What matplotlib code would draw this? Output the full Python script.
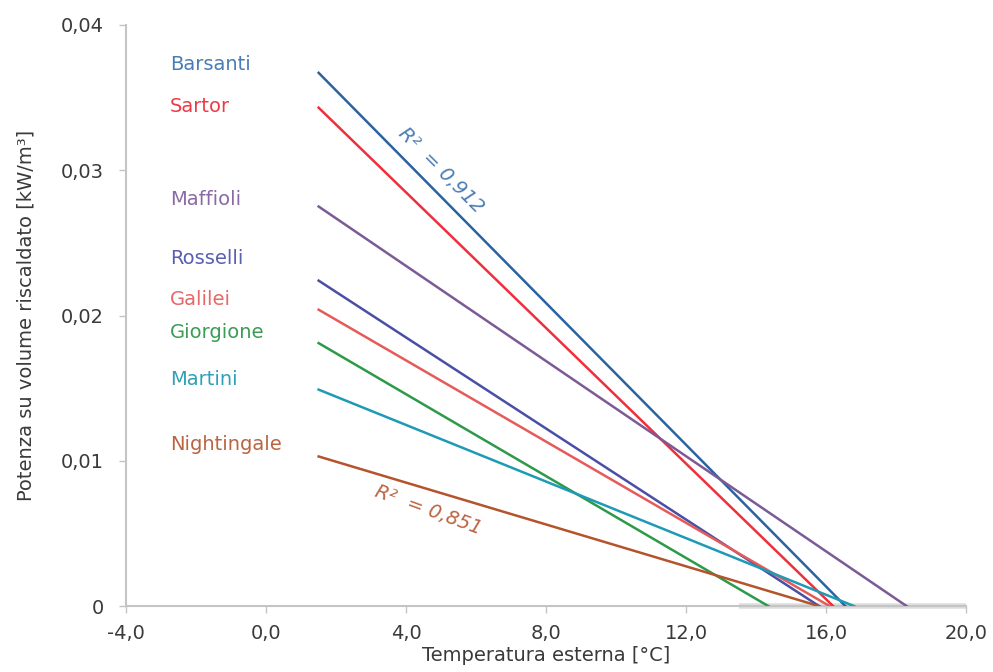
import matplotlib.pyplot as plt
from matplotlib.ticker import FuncFormatter

# regression lines: value at the start (x = 1.5) and x where they hit zero
names = ["Barsanti", "Sartor", "Maffioli", "Rosselli", "Galilei",
         "Giorgione", "Martini", "Nightingale"]
x_start = 1.5
y_start = [0.0367, 0.0343, 0.0275, 0.0224, 0.0204, 0.0181, 0.0149, 0.0103]
x_zero = [16.55, 16.2, 18.3, 15.8, 16.1, 14.35, 16.8, 15.8]
line_colors = ["#2a64a0", "#ee2f3c", "#7b5a96", "#4a4fa6", "#e65a5a",
               "#2c9a48", "#1f9ab4", "#b4532c"]
label_colors = ["#4a7db3", "#ee3a46", "#8a6aa4", "#5a5fb0", "#e86868",
                "#3a9c55", "#30a0b8", "#bb6442"]
label_y = [0.0373, 0.0344, 0.0280, 0.0239, 0.0211, 0.0188, 0.0156, 0.0111]
label_x = -2.75

x_ticks = [-4, 0, 4, 8, 12, 16, 20]
y_ticks = [0, 0.01, 0.02, 0.03, 0.04]
band = [13.5, 20]

FS = 14

fig = plt.figure(figsize=(9.93, 6.72), dpi=100)
ax = fig.add_axes([0.127, 0.098, 0.846, 0.865])

ax.plot(band, [0, 0], color="#dedede", lw=4, solid_capstyle="butt",
        clip_on=False, zorder=1)

for n, y0, xz, c, lc, ly in zip(names, y_start, x_zero, line_colors,
                                label_colors, label_y):
    ax.plot([x_start, xz], [y0, 0], color=c, lw=1.8, zorder=3)
    ax.text(label_x, ly, n, color=lc, fontsize=FS, va="center", ha="left")

ax.text(5.0, 0.0300, "R\u00b2  = 0,912", color="#4a7db3", fontsize=FS,
        style="italic", rotation=-45, ha="center", va="center")
ax.text(4.63, 0.0066, "R\u00b2  = 0,851", color="#bb6442", fontsize=FS,
        style="italic", rotation=-20, ha="center", va="center")

ax.set_xlim(-4, 20)
ax.set_ylim(0, 0.04)
ax.set_xticks(x_ticks)
ax.set_yticks(y_ticks)
ax.xaxis.set_major_formatter(FuncFormatter(lambda v, p: f"{v:.1f}".replace(".", ",")))
ax.yaxis.set_major_formatter(FuncFormatter(
    lambda v, p: "0" if v == 0 else f"{v:.2f}".replace(".", ",")))

for s in ["top", "right"]:
    ax.spines[s].set_visible(False)
for s in ["left", "bottom"]:
    ax.spines[s].set_color("#c4c4c4")
    ax.spines[s].set_linewidth(1.5)
ax.tick_params(colors="#c4c4c4", labelcolor="#3a3a3a", labelsize=FS,
               length=5, width=1)
ax.tick_params(axis="y", pad=11)
ax.tick_params(axis="x", pad=8)

ax.set_xlabel("Temperatura esterna [\u00b0C]", fontsize=FS, color="#3a3a3a",
              labelpad=2)
ax.set_ylabel("Potenza su volume riscaldato [kW/m\u00b3]", fontsize=FS,
              color="#3a3a3a", labelpad=18)

fig.savefig("out.png", dpi=100)
